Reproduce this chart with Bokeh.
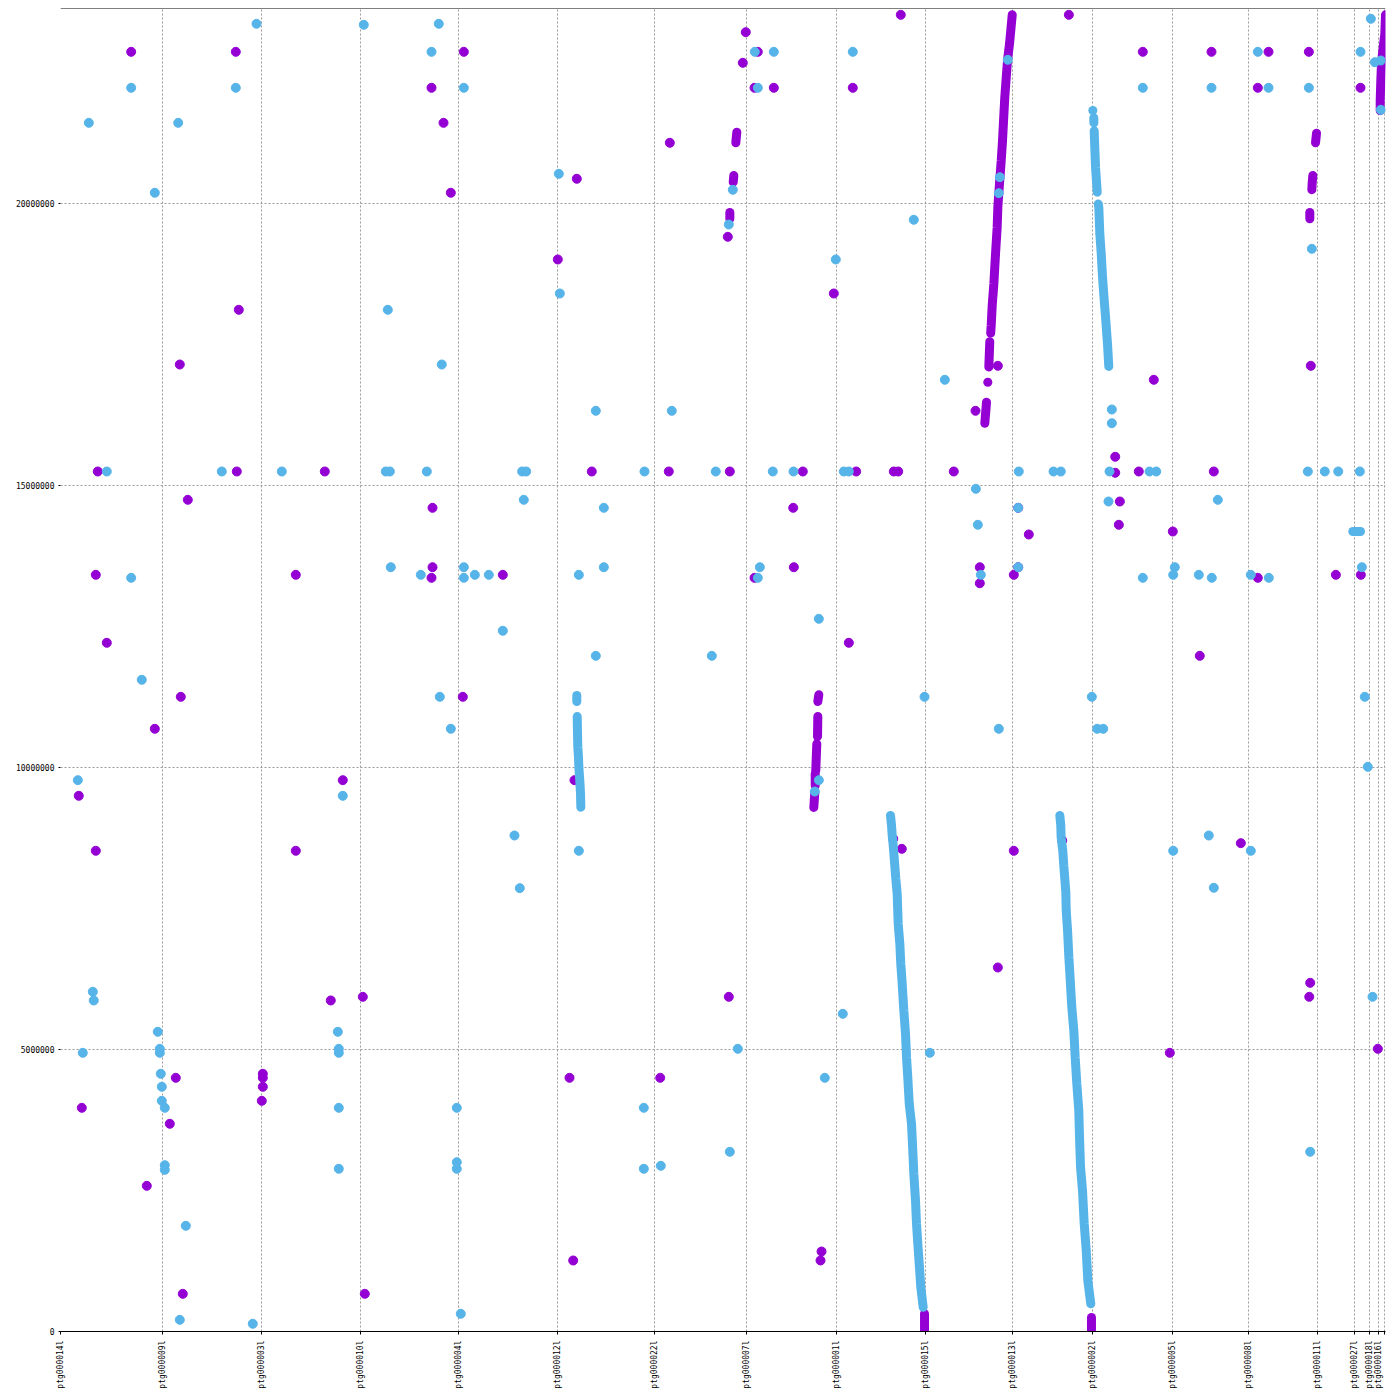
from math import pi
from itertools import accumulate

from bokeh.plotting import figure
from bokeh.models import ColumnDataSource, FixedTicker, Label, Span, BasicTickFormatter
from bokeh.embed import file_html
from bokeh.resources import INLINE

MB = 1_000_000

# reference contigs along x, in plot order, lengths in Mb
contig_names = ["ptg000014l", "ptg000009l", "ptg000003l", "ptg000010l", "ptg000004l",
                "ptg000012l", "ptg000022l", "ptg000007l", "ptg000001l", "ptg000015l",
                "ptg000013l", "ptg000002l", "ptg000005l", "ptg000008l", "ptg000011l",
                "ptg000027l", "ptg000018l", "ptg000016l"]
contig_lengths = [1.814, 1.755, 1.755, 1.738, 1.745, 1.730, 1.631, 1.596, 1.578,
                  1.532, 1.429, 1.419, 1.347, 1.224, 0.656, 0.265, 0.160, 0.106]

y_ticks = [0, 5000000, 10000000, 15000000, 20000000]

# forward matches (single dots), x = REF position (Mb), y = Chr3 position (Mb)
fwd_x = [1.253, 3.108, 7.151, 6.578, 6.791, 6.920, 3.161, 2.115, 14.898, 12.150,
         12.363, 12.097, 12.305, 12.647, 14.047, 10.803, 9.154, 11.831, 8.817, 13.711,
         16.223, 16.619, 17.878, 19.384, 19.189, 20.407, 21.418, 21.228, 22.133, 23.049,
         22.168, 0.661, 3.126, 4.686, 2.257, 6.596, 0.626, 4.172, 6.596, 6.578,
         7.842, 0.821, 2.133, 7.133, 1.672, 0.324, 5.005, 0.626, 4.172, 9.420,
         10.785, 11.867, 13.161, 14.107, 14.774, 14.852, 12.991, 12.305, 13.002, 13.977,
         9.113, 14.916, 14.764, 18.700, 15.838, 18.700, 19.118, 20.448, 18.782, 17.168,
         18.764, 19.721, 16.299, 16.299, 16.902, 16.980, 16.980, 21.228, 22.612, 23.055,
         20.199, 17.760, 16.902, 20.927, 4.792, 5.360, 2.044, 0.378, 1.938, 1.530,
         2.168, 5.395, 11.849, 9.025, 10.633, 9.090, 13.493, 13.475, 16.619, 19.668,
         22.157, 22.140, 23.356, 3.587, 3.587, 3.587, 3.569]
fwd_y = [22.689, 22.689, 22.689, 22.051, 21.430, 20.190, 18.115, 17.145, 23.345, 23.037,
         22.689, 22.494, 22.051, 22.051, 22.051, 21.076, 20.438, 19.409, 19.007, 18.404,
         16.324, 17.122, 23.345, 16.874, 22.689, 22.689, 22.689, 22.051, 22.689, 22.051,
         17.122, 15.248, 15.248, 15.248, 14.746, 14.604, 13.416, 13.416, 13.551, 13.363,
         13.416, 12.211, 11.253, 11.253, 10.686, 9.498, 9.775, 8.523, 8.523, 15.248,
         15.248, 15.248, 15.248, 15.248, 15.248, 15.248, 14.604, 13.363, 13.551, 12.211,
         9.775, 8.558, 8.736, 15.509, 15.248, 15.225, 15.248, 15.248, 14.716, 14.131,
         14.303, 14.184, 13.551, 13.267, 13.416, 13.551, 14.604, 13.363, 13.416, 13.416,
         11.980, 8.705, 8.523, 8.658, 5.869, 5.934, 4.498, 3.966, 3.683, 2.583,
         0.668, 0.668, 5.934, 4.498, 4.498, 1.259, 1.418, 1.259, 6.454, 4.941,
         6.182, 5.934, 5.012, 4.569, 4.498, 4.339, 4.090]

# forward match runs
fwd_run_xs = [
    [16.388, 16.418],
    [16.441, 16.441],
    [16.459, 16.476],
    [16.492, 16.501, 16.519, 16.548, 16.578, 16.607, 16.619, 16.636, 16.679, 16.702,
     16.742, 16.790, 16.826, 16.874],
    [15.319, 15.319],
    [18.279, 18.279],
    [23.398, 23.398, 23.409, 23.421, 23.444, 23.480, 23.492],
    [13.445, 13.427], [13.427, 13.422], [13.409, 13.391], [13.381, 13.381], [13.374, 13.356],
    [11.991, 11.973], [11.938, 11.927], [11.867, 11.867],
    [22.269, 22.251], [22.204, 22.193, 22.186], [22.150, 22.150],
]
fwd_run_ys = [
    [16.104, 16.477],
    [16.831, 16.831],
    [17.100, 17.550],
    [17.700, 17.837, 18.191, 18.576, 19.108, 19.580, 19.934, 20.183, 20.762, 21.117,
     21.884, 22.535, 22.831, 23.345],
    [0.314, 0.0],
    [0.250, 0.020],
    [21.649, 21.826, 22.180, 22.476, 22.712, 23.008, 23.345],
    [11.289, 11.170], [10.904, 10.549], [10.420, 9.947], [9.888, 9.681], [9.556, 9.291],
    [21.264, 21.076], [20.496, 20.378], [19.840, 19.729],
    [21.246, 21.076], [20.496, 20.378, 20.243], [19.840, 19.729],
]

# reverse matches (single dots)
rev_x = [3.475, 5.377, 6.707, 6.578, 1.253, 3.108, 7.151, 0.502, 2.087, 1.672,
         5.803, 6.760, 12.310, 12.647, 14.047, 12.363, 8.835, 11.920, 11.849, 13.746,
         8.853, 15.129, 15.679, 9.491, 10.838, 16.636, 16.654, 16.795, 18.640, 18.640,
         19.189, 20.407, 21.228, 21.418, 22.133, 23.049, 23.232, 23.303, 23.409, 23.409,
         22.186, 0.821, 2.860, 3.924, 5.768, 5.839, 6.495, 1.253, 5.856, 6.388,
         7.151, 7.151, 7.346, 7.594, 7.842, 1.441, 6.725, 6.920, 0.307, 5.005,
         8.185, 8.256, 10.354, 11.618, 12.629, 12.996, 13.888, 13.977, 8.214, 9.633,
         9.190, 9.633, 12.399, 12.363, 13.445, 9.491, 11.548, 15.319, 13.445, 13.374,
         8.049, 9.190, 8.143, 16.990, 17.606, 17.735, 18.599, 19.308, 19.427, 22.115,
         22.416, 22.654, 23.037, 16.229, 18.581, 16.980, 20.519, 16.264, 16.317, 16.980,
         19.189, 19.756, 19.728, 20.182, 20.412, 21.104, 21.423, 23.073, 18.285, 23.125,
         16.636, 18.381, 18.487, 23.178, 19.728, 20.359, 21.104, 20.448, 0.573, 0.590,
         1.725, 4.917, 0.395, 1.761, 1.761, 4.934, 4.934, 1.778, 1.796, 1.796,
         1.849, 4.934, 7.026, 1.849, 1.849, 4.934, 7.026, 7.026, 2.222, 2.115,
         3.409, 7.097, 13.870, 12.008, 15.413, 13.551, 10.342, 11.867, 10.342, 10.643,
         23.262, 22.157]
rev_y = [23.186, 23.168, 23.186, 22.689, 22.051, 22.051, 22.051, 21.430, 21.430, 20.190,
         18.115, 17.145, 22.689, 22.689, 22.689, 22.051, 20.526, 20.243, 19.627, 19.007,
         18.404, 19.711, 16.874, 16.324, 16.324, 20.183, 20.466, 22.547, 16.347, 16.104,
         22.051, 22.051, 22.689, 22.051, 22.051, 22.689, 23.275, 22.505, 22.535, 21.661,
         19.196, 15.248, 15.248, 15.248, 15.248, 15.248, 15.248, 13.363, 13.551, 13.416,
         13.551, 13.363, 13.416, 13.416, 12.424, 11.555, 11.253, 10.686, 9.775, 9.498,
         15.248, 15.248, 15.248, 15.248, 15.248, 15.248, 15.248, 15.248, 14.746, 14.604,
         13.416, 13.551, 13.551, 13.363, 12.636, 11.980, 11.980, 11.253, 9.775, 9.574,
         8.794, 8.523, 7.861, 15.248, 15.248, 15.248, 15.248, 15.248, 15.248, 15.248,
         15.248, 15.248, 15.248, 14.941, 14.716, 14.604, 14.746, 14.303, 13.416, 13.551,
         13.363, 13.551, 13.416, 13.416, 13.363, 13.416, 13.363, 13.551, 11.253, 11.253,
         10.686, 10.686, 10.686, 10.012, 8.523, 8.794, 8.523, 7.867, 6.023, 5.869,
         5.314, 5.314, 4.941, 5.012, 4.941, 5.012, 4.941, 4.569, 4.339, 4.090,
         3.966, 3.966, 3.966, 2.949, 2.866, 2.885, 3.002, 2.885, 1.874, 0.207,
         0.137, 0.314, 5.633, 5.012, 4.941, 4.498, 3.966, 3.186, 2.885, 2.938,
         5.934, 3.186]

# reverse match runs
rev_run_xs = [
    [9.154, 9.154],
    [9.161, 9.166, 9.172, 9.184, 9.190, 9.207, 9.220, 9.225],
    [14.716, 14.734, 14.746, 14.764, 14.787, 14.810, 14.834, 14.852, 14.881, 14.898,
     14.923, 14.952, 14.982, 15.000, 15.022, 15.048, 15.088, 15.111, 15.129, 15.159,
     15.177, 15.200, 15.225, 15.253, 15.295],
    [17.718, 17.735, 17.741, 17.770, 17.788, 17.806, 17.824, 17.831, 17.855, 17.878,
     17.903, 17.930, 17.966, 17.990, 18.019, 18.054, 18.067, 18.085, 18.120, 18.150,
     18.186, 18.214, 18.267],
    [18.303, 18.303],
    [18.320, 18.322],
    [18.327, 18.333, 18.351, 18.381],
    [18.400, 18.409, 18.427, 18.452, 18.475, 18.505, 18.533, 18.563, 18.586],
    [22.912, 23.049],
]
rev_run_ys = [
    [11.277, 11.170],
    [10.904, 10.626, 10.360, 10.183, 10.006, 9.769, 9.533, 9.296],
    [9.150, 8.971, 8.794, 8.617, 8.321, 8.026, 7.761, 7.229, 6.874, 6.519,
     6.165, 5.691, 5.278, 4.863, 4.509, 4.037, 3.683, 3.209, 2.796, 2.323,
     1.910, 1.555, 1.200, 0.785, 0.431],
    [9.149, 8.971, 8.764, 8.528, 8.262, 8.026, 7.789, 7.464, 7.110, 6.636,
     6.223, 5.750, 5.337, 4.863, 4.392, 3.918, 3.445, 2.913, 2.500, 1.910,
     1.436, 0.904, 0.491],
    [21.649, 21.649],
    [21.520, 21.430],
    [21.290, 21.117, 20.643, 20.200],
    [19.990, 19.934, 19.462, 19.108, 18.693, 18.280, 17.925, 17.512, 17.110],
    [14.184, 14.184],
]

FWD = "#9400D3"
REV = "#56B4E9"
FONT = "DejaVu Sans Mono"


def bp(values):
    return [round(v * MB) for v in values]


lengths_bp = bp(contig_lengths)
starts = [0] + list(accumulate(lengths_bp))
x_end = starts[-1] + 12000
y_end = 23457000

p = figure(width=1392, height=1392, x_range=(0, x_end), y_range=(0, y_end),
           output_backend="svg", toolbar_location=None,
           min_border_left=60, min_border_right=7, min_border_top=8, min_border_bottom=61)
p.background_fill_color = "white"
p.border_fill_color = "white"
p.outline_line_color = None

x_labels = {s: n for s, n in zip(starts[:-1], contig_names)}
x_labels[starts[-1]] = ""
p.xaxis.ticker = FixedTicker(ticks=starts)
p.xaxis.major_label_overrides = x_labels
p.xaxis.major_label_orientation = pi / 2
p.xaxis.minor_tick_line_color = None
p.xaxis.major_tick_in = 0
p.xaxis.major_tick_out = 3
p.xaxis.major_label_standoff = 6
p.xaxis.axis_line_color = "black"

p.yaxis.ticker = FixedTicker(ticks=y_ticks)
p.yaxis.formatter = BasicTickFormatter(use_scientific=False)
p.yaxis.minor_tick_line_color = None
p.yaxis.major_tick_in = 0
p.yaxis.major_tick_out = 2
p.yaxis.major_label_standoff = 4
p.yaxis.axis_line_color = None

p.axis.major_label_text_font = FONT
p.axis.major_label_text_font_size = "8px"
p.axis.major_label_text_color = "black"

p.grid.grid_line_color = "#9a9a9a"
p.grid.grid_line_dash = "2 2"
p.grid.grid_line_width = 1

p.add_layout(Span(location=y_end, dimension="width", line_color="black", line_width=1))

# forward first, reverse drawn on top
p.multi_line(xs=[bp(r) for r in fwd_run_xs], ys=[bp(r) for r in fwd_run_ys],
             line_color=FWD, line_width=9, line_cap="round")
fwd_src = ColumnDataSource(data=dict(x=bp(fwd_x), y=bp(fwd_y)))
p.scatter("x", "y", source=fwd_src, size=9, fill_color=FWD, line_color=FWD)

p.multi_line(xs=[bp(r) for r in rev_run_xs], ys=[bp(r) for r in rev_run_ys],
             line_color=REV, line_width=9, line_cap="round")
rev_src = ColumnDataSource(data=dict(x=bp(rev_x), y=bp(rev_y)))
p.scatter("x", "y", source=rev_src, size=9, fill_color=REV, line_color=REV)

p.add_layout(Label(x=x_end / 2, y=0, y_offset=-55, text="REF", text_font=FONT,
                   text_font_size="8px", text_align="center", text_baseline="middle"))
p.add_layout(Label(x=0, y=y_end / 2, x_offset=-51, text="Chr3", angle=pi / 2,
                   text_font=FONT, text_font_size="8px", text_align="center",
                   text_baseline="middle"))

open("out.html", "w").write(file_html(p, INLINE))
